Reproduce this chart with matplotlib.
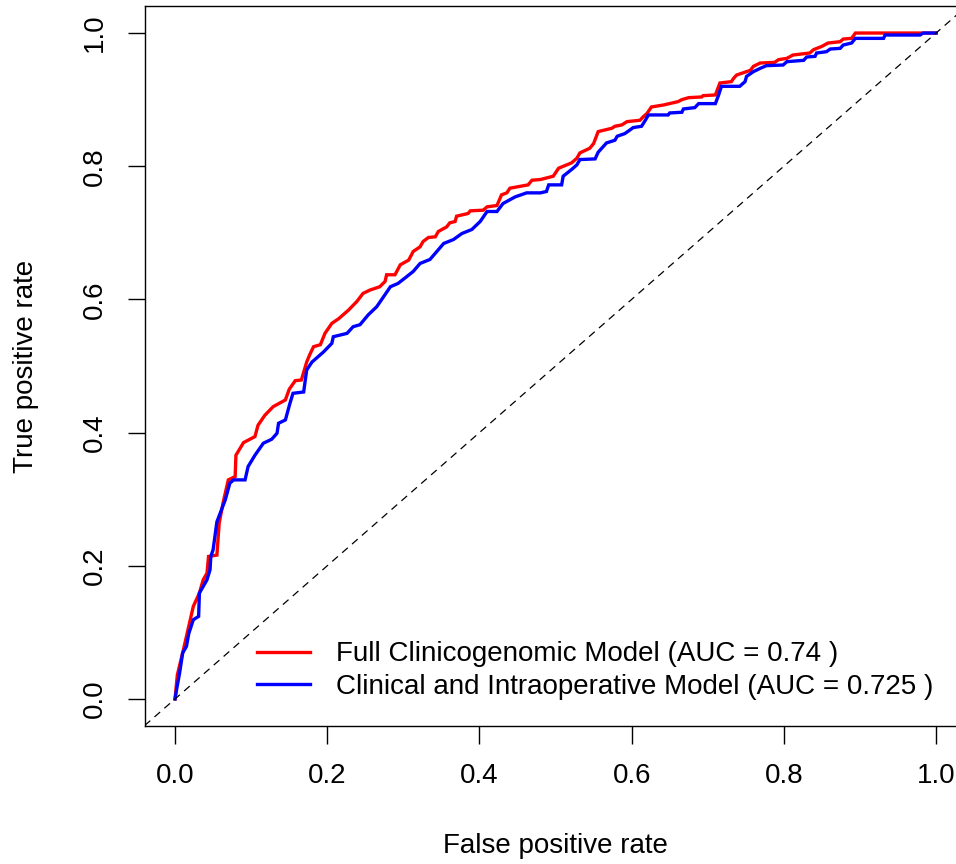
#!/usr/bin/env python3
# -*- coding: utf-8 -*-
"""
Plot ROC curves for the full clinicogenomic model and the clinical/intraoperative model.
"""

import matplotlib
matplotlib.use("Agg")
import matplotlib.pyplot as plt
from typing import List

# ROC points (false positive rate, true positive rate)
full_fpr: List[float] = [
    0, .003, .011, .018, .024, .032, .037, .042, .044, .055, .058, .063, .067, .070, .079, .080,
    .090, .105, .109, .118, .129, .145, .150, .158, .166, .173, .177, .182, .191, .197, .206, .215,
    .221, .228, .239, .247, .256, .269, .276, .278, .289, .296, .307, .313, .322, .326, .333, .342,
    .346, .357, .361, .368, .370, .385, .388, .405, .410, .423, .429, .436, .440, .464, .469, .480,
    .497, .504, .521, .528, .532, .545, .550, .556, .574, .578, .587, .594, .611, .615, .620, .626,
    .642, .661, .666, .675, .692, .694, .710, .714, .716, .731, .734, .738, .756, .760, .769, .788,
    .793, .804, .812, .834, .839, .850, .858, .874, .878, .889, .894, 1.0,
]
full_tpr: List[float] = [
    0, .036, .074, .109, .139, .159, .179, .189, .214, .216, .264, .294, .314, .329, .334, .366,
    .385, .394, .411, .426, .439, .449, .465, .478, .479, .506, .517, .529, .532, .549, .564, .571,
    .577, .584, .597, .609, .614, .619, .627, .637, .637, .652, .659, .672, .679, .687, .693, .694,
    .702, .709, .715, .717, .725, .729, .733, .734, .739, .741, .757, .760, .767, .772, .779, .780,
    .785, .797, .805, .812, .820, .827, .834, .852, .857, .860, .862, .867, .869, .874, .879, .889,
    .892, .897, .900, .903, .904, .906, .907, .919, .925, .927, .932, .937, .944, .950, .955, .956,
    .960, .962, .967, .970, .975, .980, .985, .987, .991, .992, 1.0, 1.0,
]

clin_fpr: List[float] = [
    0, .002, .006, .010, .015, .018, .024, .031, .032, .042, .046, .047, .050, .055, .061, .066,
    .072, .077, .092, .096, .105, .116, .127, .134, .136, .145, .151, .155, .169, .173, .180, .195,
    .206, .208, .226, .234, .243, .254, .265, .274, .283, .293, .302, .313, .322, .335, .344, .353,
    .366, .377, .390, .401, .410, .423, .431, .447, .462, .480, .488, .491, .508, .510, .521, .528,
    .532, .552, .556, .567, .578, .581, .591, .596, .602, .613, .618, .622, .648, .650, .666, .668,
    .683, .688, .710, .714, .718, .742, .749, .751, .760, .769, .777, .799, .804, .826, .830, .841,
    .843, .856, .861, .874, .878, .889, .894, .931, .933, .979, .983, 1.0,
]
clin_tpr: List[float] = [
    0, .014, .039, .069, .079, .098, .119, .124, .159, .179, .194, .214, .224, .266, .284, .299,
    .324, .329, .329, .349, .366, .384, .390, .399, .414, .419, .444, .459, .461, .494, .506, .521,
    .534, .544, .549, .559, .562, .577, .589, .604, .619, .624, .632, .642, .654, .660, .672, .684,
    .690, .699, .705, .717, .732, .732, .744, .754, .760, .760, .762, .772, .772, .785, .795, .802,
    .810, .811, .821, .835, .839, .845, .849, .853, .858, .860, .869, .877, .877, .880, .881, .886,
    .888, .894, .894, .906, .920, .920, .927, .935, .942, .947, .951, .952, .957, .959, .964, .965,
    .970, .972, .976, .977, .982, .985, .992, .992, .997, .997, 1.0, 1.0,
]

model_names: List[str] = ["Full Clinicogenomic Model", "Clinical and Intraoperative Model"]
model_auc: List[str] = ["0.74", "0.725"]
model_colors: List[str] = ["#ff0000", "#0000ff"]
tick_values: List[float] = [0.0, 0.2, 0.4, 0.6, 0.8, 1.0]

W, H = 956, 864


def main() -> None:
    plt.rcParams["font.family"] = ["Liberation Sans", "DejaVu Sans"]
    plt.rcParams["font.size"] = 20

    fig = plt.figure(figsize=(W / 100, H / 100), dpi=100)
    # plot region in pixels: left 144.6, top 6.4, width 821.9, height 719.2
    ax = fig.add_axes([144.6 / W, (H - 725.6) / H, 821.9 / W, 719.2 / H])

    curves = [(full_fpr, full_tpr), (clin_fpr, clin_tpr)]
    for (fpr, tpr), name, auc, color in zip(curves, model_names, model_auc, model_colors):
        ax.plot(fpr, tpr, color=color, lw=2.4, solid_joinstyle="miter",
                label=f"{name} (AUC = {auc} )")

    ax.axline((0, 0), slope=1, color="black", lw=0.9, linestyle=(0, (6, 4.5)))

    ax.set_xlim(-0.04, 1.04)
    ax.set_ylim(-0.04, 1.04)
    ax.set_xticks(tick_values)
    ax.set_yticks(tick_values)
    ax.set_xticklabels([f"{v:.1f}" for v in tick_values])
    ax.set_yticklabels([f"{v:.1f}" for v in tick_values])
    ax.tick_params(axis="both", length=12.6, width=1.0, pad=14, labelsize=20)
    ax.tick_params(axis="y", labelrotation=90)
    for lab in ax.get_yticklabels():
        lab.set_va("center")
    for sp in ax.spines.values():
        sp.set_linewidth(1.0)

    fig.text(555.5 / W, 11 / H, "False positive rate", ha="center", va="baseline", fontsize=20)
    fig.text(33 / W, (H - 366) / H, "True positive rate", rotation=90, rotation_mode="anchor",
             ha="center", va="baseline", fontsize=20)

    ax.legend(loc="center left", bbox_to_anchor=(256.7 / W, (H - 670.5) / H),
              bbox_transform=fig.transFigure, frameon=False, fontsize=20,
              borderpad=0, borderaxespad=0, handlelength=1.93, handletextpad=0.93,
              labelspacing=0.22)

    fig.savefig("out.png", dpi=100)
    plt.close(fig)


if __name__ == "__main__":
    main()
